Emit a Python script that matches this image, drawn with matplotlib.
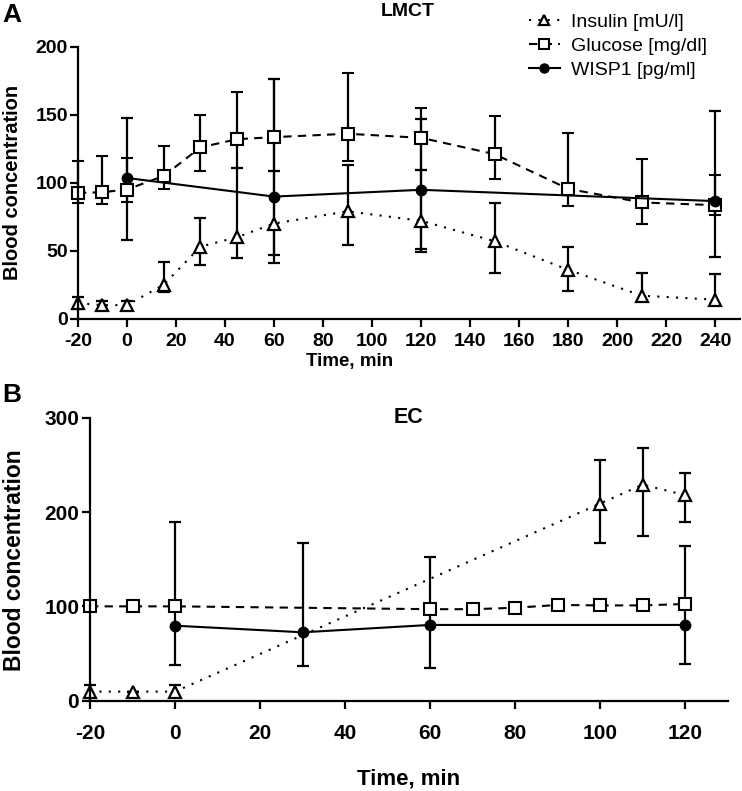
import numpy as np
import matplotlib.pyplot as plt
from matplotlib.lines import Line2D

plt.rcParams['font.family'] = ['Liberation Sans', 'DejaVu Sans']
plt.rcParams['axes.unicode_minus'] = False

# ---- panel A: LMCT ----
t_ins_a = [-20, -10, 0, 15, 30, 45, 60, 90, 120, 150, 180, 210, 240]
ins_a = [11.5, 10, 10, 25, 53, 60, 70, 79, 72, 57, 36, 17, 14]
ins_a_lo = [7, 7, 7, 20, 39.5, 45, 46.8, 54.2, 51.2, 34, 20.5, 13, 11]
ins_a_hi = [16, 13, 13, 42, 74, 111, 108.8, 113.2, 109.5, 85.4, 52.5, 34, 32.6]

t_glu_a = [-20, -10, 0, 15, 30, 45, 60, 90, 120, 150, 180, 210, 240]
glu_a = [92.5, 93, 95, 105, 126, 132, 133.5, 136, 133, 121, 95.5, 85.5, 83.5]
glu_a_lo = [85, 84.5, 86, 95.3, 108.6, 110.8, 108.8, 116.1, 109.5, 102.9, 83.2, 69.7, 76.3]
glu_a_hi = [115.6, 120, 118, 127, 149.6, 166.8, 176, 180.8, 155, 148.8, 136.6, 117.6, 105.8]

t_wisp_a = [0, 60, 120, 240]
wisp_a = [103.5, 89.8, 94.8, 86.5]
wisp_a_lo = [58, 41.2, 48.8, 45.6]
wisp_a_hi = [147.6, 176, 147.1, 153]

# ---- panel B: EC ----
t_ins_b = [-20, -10, 0, 100, 110, 120]
ins_b = [9.6, 9.6, 9.6, 209, 229, 218]
ins_b_lo = [4, 9.6, 4, 167, 175, 189]
ins_b_hi = [16.6, 9.6, 16.6, 255, 267.7, 241]

t_glu_b = [-20, -10, 0, 60, 70, 80, 90, 100, 110, 120]
glu_b = [100, 100, 100, 97, 97, 98.5, 101.5, 101, 101, 102.5]
glu_b_lo = [97, 97, 97, 94, 94, 95.5, 98.5, 98, 98, 99.5]
glu_b_hi = [103, 103, 103, 100, 100, 101.5, 104.5, 104, 104, 105.5]

t_wisp_b = [0, 30, 60, 120]
wisp_b = [79.5, 72.5, 80.3, 80.3]
wisp_b_lo = [37.9, 37.1, 34.4, 38.6]
wisp_b_hi = [189.8, 167.5, 152.7, 164.4]

labels = ['Insulin [mU/l]', 'Glucose [mg/dl]', 'WISP1 [pg/ml]']

STYLES = {
    'ins': dict(ls=(0, (1, 3.5)), marker='^', ms=8, mfc='white', mew=1.6),
    'glu': dict(ls=(0, (4, 3)), marker='s', ms=8, mfc='white', mew=1.5),
    'wisp': dict(ls='-', marker='o', ms=7.5, mfc='black'),
}

fig = plt.figure(figsize=(7.42, 7.91), dpi=100)
axA = fig.add_axes([0.105, 0.597, 0.892, 0.344])
axB = fig.add_axes([0.1213, 0.1142, 0.8594, 0.3577])


def series(ax, t, m, lo, hi, style):
    m = np.array(m)
    yerr = [m - np.array(lo), np.array(hi) - m]
    eb = ax.errorbar(t, m, yerr=yerr, color='black', ecolor='black',
                     elinewidth=1.6, capsize=4.5, capthick=1.6, lw=1.5,
                     clip_on=False, **STYLES[style])
    for art in eb.lines[1] + eb.lines[2]:
        art.set_clip_on(False)
    return eb


def style_ax(ax, size, xpad, ypad):
    for s in ['top', 'right']:
        ax.spines[s].set_visible(False)
    for s in ['left', 'bottom']:
        ax.spines[s].set_linewidth(1.6)
    ax.tick_params(width=1.6, length=5.8, labelsize=size)
    ax.tick_params(axis='x', pad=xpad)
    ax.tick_params(axis='y', pad=ypad)
    for lab in ax.get_xticklabels() + ax.get_yticklabels():
        lab.set_fontweight('bold')


series(axA, t_ins_a, ins_a, ins_a_lo, ins_a_hi, 'ins')
series(axA, t_glu_a, glu_a, glu_a_lo, glu_a_hi, 'glu')
series(axA, t_wisp_a, wisp_a, wisp_a_lo, wisp_a_hi, 'wisp')
axA.set_xlim(-20, 250)
axA.set_ylim(0, 200)
axA.set_xticks(range(-20, 241, 20))
axA.set_yticks([0, 50, 100, 150, 200])
style_ax(axA, 14, 4.5, 1.5)
axA.set_ylabel('Blood concentration', fontsize=14.5, fontweight='bold')
axA.yaxis.set_label_coords(-0.085, 0.5)
axA.set_xlabel('Time, min', fontsize=13.5, fontweight='bold', va='top')
axA.xaxis.set_label_coords(0.41, -0.127)
fig.text(0.549, 0.986, 'LMCT', ha='center', va='center', fontsize=14, fontweight='bold')
fig.text(0.003, 0.981, 'A', ha='left', va='center', fontsize=19, fontweight='bold')

handles = [Line2D([], [], color='black', lw=1.5, **dict(STYLES[k], ms=6.5))
           for k in ['ins', 'glu', 'wisp']]
fig.legend(handles, labels, loc='upper left', bbox_to_anchor=(0.694, 1.0),
           frameon=False, fontsize=14, handlelength=1.6, handletextpad=0.6,
           labelspacing=0.33, borderpad=0.2)

series(axB, t_ins_b, ins_b, ins_b_lo, ins_b_hi, 'ins')
series(axB, t_glu_b, glu_b, glu_b_lo, glu_b_hi, 'glu')
series(axB, t_wisp_b, wisp_b, wisp_b_lo, wisp_b_hi, 'wisp')
axB.set_xlim(-20, 130)
axB.set_ylim(0, 300)
axB.set_xticks(range(-20, 121, 20))
axB.set_yticks([0, 100, 200, 300])
style_ax(axB, 15, 11, 2)
axB.set_ylabel('Blood concentration', fontsize=16.5, fontweight='bold')
axB.yaxis.set_label_coords(-0.1, 0.497)
axB.set_xlabel('Time, min', fontsize=16, fontweight='bold', va='top')
axB.xaxis.set_label_coords(0.5, -0.238)
axB.text(0.5, 1.0, 'EC', transform=axB.transAxes, ha='center', va='center',
         fontsize=15.5, fontweight='bold')
fig.text(0.003, 0.5, 'B', ha='left', va='center', fontsize=19, fontweight='bold')

fig.savefig('out.png', dpi=100)
